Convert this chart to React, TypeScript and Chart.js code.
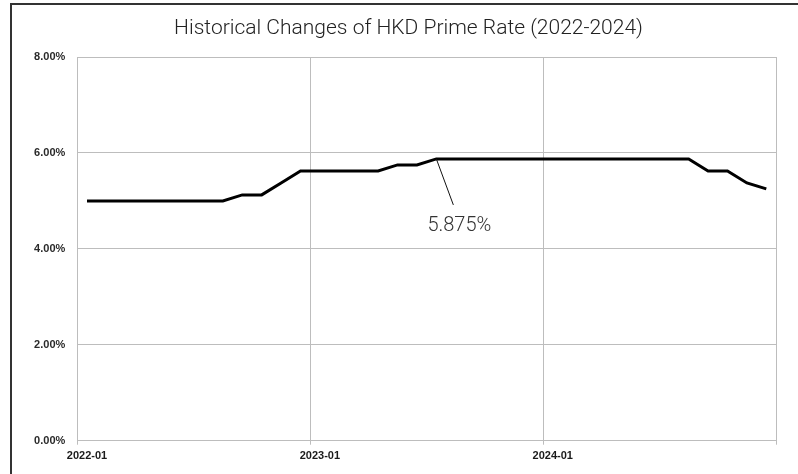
import React, { useEffect, useRef } from "react";
import { Chart, registerables } from "chart.js";

Chart.register(...registerables);

const TITLE = "Historical Changes of HKD Prime Rate (2022-2024)";

const months2022 = ["2022-01","2022-02","2022-03","2022-04","2022-05","2022-06","2022-07","2022-08","2022-09","2022-10","2022-11","2022-12"];
const months2023 = ["2023-01","2023-02","2023-03","2023-04","2023-05","2023-06","2023-07","2023-08","2023-09","2023-10","2023-11","2023-12"];
const months2024 = ["2024-01","2024-02","2024-03","2024-04","2024-05","2024-06","2024-07","2024-08","2024-09","2024-10","2024-11","2024-12"];
const months = [...months2022, ...months2023, ...months2024];

const rate2022 = [5.0, 5.0, 5.0, 5.0, 5.0, 5.0, 5.0, 5.0, 5.125, 5.125, 5.375, 5.625];
const rate2023 = [5.625, 5.625, 5.625, 5.625, 5.75, 5.75, 5.875, 5.875, 5.875, 5.875, 5.875, 5.875];
const rate2024 = [5.875, 5.875, 5.875, 5.875, 5.875, 5.875, 5.875, 5.875, 5.625, 5.625, 5.375, 5.25];
const rates = [...rate2022, ...rate2023, ...rate2024];

const yTicks = [0, 2, 4, 6, 8];
const annotationMonth = "2023-07";
const annotationLabel = "5.875%";

const GRID = "#bdbdbd";

export default function App() {
  const ref = useRef<HTMLCanvasElement | null>(null);

  useEffect(() => {
    if (!ref.current) return;

    const titlePlugin = {
      id: "customTitle",
      afterDraw(chart: any) {
        const ctx = chart.ctx;
        ctx.save();
        ctx.font = "300 21px Roboto, 'Open Sans', sans-serif";
        ctx.fillStyle = "#222";
        ctx.textAlign = "center";
        ctx.textBaseline = "alphabetic";
        ctx.fillText(TITLE, 408.5, 34);
        ctx.restore();
      },
    };

    const annotationPlugin = {
      id: "annot",
      afterDatasetsDraw(chart: any) {
        const idx = months.indexOf(annotationMonth);
        const meta = chart.getDatasetMeta(0);
        const pt = meta.data[idx];
        if (!pt) return;
        const ctx = chart.ctx;
        ctx.save();
        ctx.strokeStyle = "#111";
        ctx.lineWidth = 1;
        ctx.beginPath();
        ctx.moveTo(pt.x, pt.y);
        ctx.lineTo(pt.x + 17, pt.y + 46);
        ctx.stroke();
        ctx.font = "300 20px Roboto, 'Open Sans', sans-serif";
        ctx.fillStyle = "#333";
        ctx.textAlign = "center";
        ctx.textBaseline = "middle";
        ctx.fillText(annotationLabel, pt.x + 23, pt.y + 67);
        ctx.restore();
      },
    };

    const chart = new Chart(ref.current, {
      type: "line",
      data: {
        labels: months,
        datasets: [
          {
            data: rates,
            borderColor: "#000",
            borderWidth: 3,
            pointRadius: 0,
            tension: 0,
            fill: false,
          },
        ],
      },
      options: {
        animation: false,
        responsive: false,
        layout: { padding: { left: 0, right: 22, top: 57, bottom: 0 } },
        plugins: {
          legend: { display: false },
          title: { display: false },
          tooltip: { enabled: false },
        },
        scales: {
          x: {
            type: "category",
            offset: true,
            afterFit(scale: any) {
              scale.height = 33.3;
            },
            grid: {
              offset: true,
              drawTicks: true,
              tickLength: 4,
              lineWidth: 1,
              color: (c: any) =>
                c.index === undefined || c.index % 12 === 0 ? GRID : "rgba(0,0,0,0)",
            },
            border: { display: true, color: GRID, width: 1 },
            ticks: {
              autoSkip: false,
              maxRotation: 0,
              minRotation: 0,
              padding: 5,
              color: "#1a1a1a",
              font: { family: "'Liberation Sans', Arial, sans-serif", size: 11, weight: "bold" },
              callback: (_v: any, i: number) => (i % 12 === 0 ? months[i] : ""),
            },
          },
          y: {
            min: 0,
            max: 8,
            afterFit(scale: any) {
              scale.width = 77.3;
            },
            afterBuildTicks(scale: any) {
              scale.ticks = yTicks.map((v) => ({ value: v }));
            },
            grid: { color: GRID, lineWidth: 1, drawTicks: false },
            border: { display: true, color: GRID, width: 1 },
            ticks: {
              padding: 12,
              color: "#2a2a2a",
              font: { family: "'Liberation Sans', Arial, sans-serif", size: 11, weight: "bold" },
              callback: (v: any) => Number(v).toFixed(2) + "%",
            },
          },
        },
      },
      plugins: [titlePlugin, annotationPlugin],
    } as any);

    return () => chart.destroy();
  }, []);

  return (
    <>
      <canvas
        ref={ref}
        width={798}
        height={474}
        style={{ position: "fixed", left: 0, top: 0, width: 798, height: 474, background: "#fff" }}
      />
      <div
        style={{
          position: "fixed",
          left: 10,
          top: 3,
          width: 788,
          height: 471,
          boxSizing: "border-box",
          borderTop: "2px solid #333",
          borderLeft: "2px solid #333",
          pointerEvents: "none",
        }}
      />
    </>
  );
}
